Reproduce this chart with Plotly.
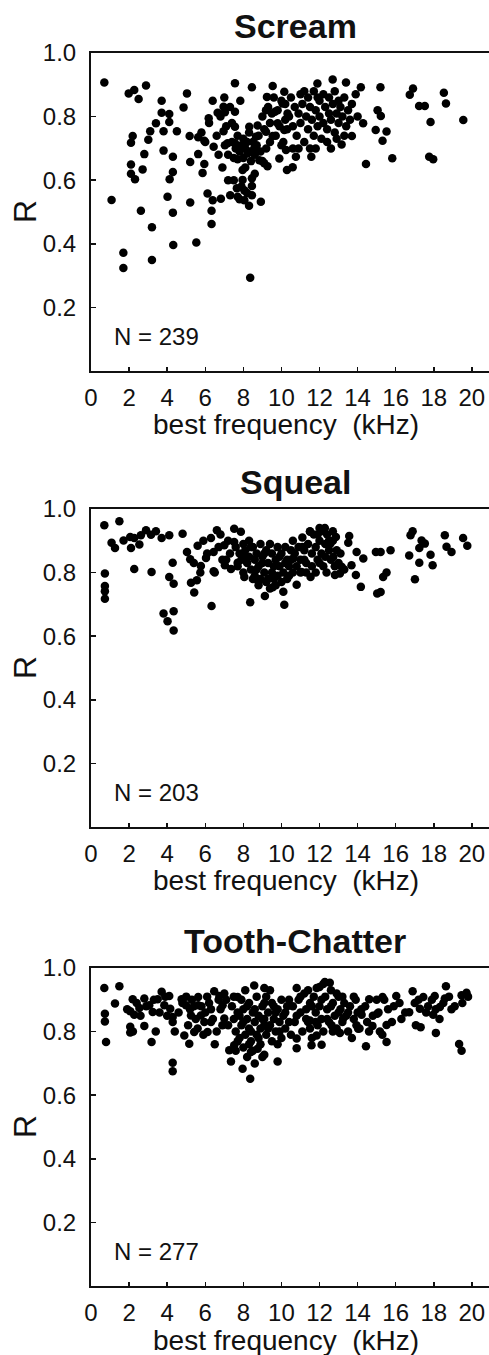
import plotly.graph_objects as go

# ---------------- data (best frequency kHz, R) ----------------
scream_pts = [
    (0.70, .907), (1.08, .538), (1.70, .372), (1.70, .324), (1.98, .873), (2.27, .884), (2.50, .855), (2.89, .898),
    (2.19, .739), (2.10, .718), (2.80, .682), (2.10, .649), (2.10, .620), (2.31, .603), (2.71, .634), (2.62, .504),
    (3.20, .452), (3.20, .349), (3.01, .727), (3.11, .754), (3.41, .779), (3.71, .850), (3.71, .812), (4.11, .808),
    (4.11, .783), (3.81, .754), (3.81, .693), (4.30, .674), (4.30, .626), (4.13, .603), (4.51, .754), (4.02, .548),
    (4.30, .498), (4.32, .396), (4.86, .829), (5.04, .873), (5.18, .739), (5.21, .657), (5.21, .530), (5.53, .404),
    (5.63, .735), (5.63, .682), (5.95, .724), (5.95, .651), (5.86, .623), (6.12, .558), (6.39, .537), (6.33, .504),
    (6.33, .462), (6.18, .795), (6.39, .850), (6.44, .705), (6.65, .812), (6.96, .831), (7.03, .814), (6.96, .754),
    (6.82, .542), (7.31, .553), (7.03, .710), (7.17, .716), (7.56, .905), (7.56, .815), (7.56, .768), (7.56, .716),
    (7.70, .666), (7.84, .850), (7.96, .632), (7.96, .601), (7.66, .575), (7.70, .548), (8.05, .568), (8.31, .768),
    (8.36, .293), (8.45, .892), (8.45, .606), (8.45, .582), (8.45, .553), (8.05, .537), (8.22, .684), (8.57, .700),
    (8.66, .737), (8.84, .663), (8.92, .532), (9.10, .653), (9.27, .644), (8.75, .772), (9.19, .820), (9.24, .862),
    (9.19, .752), (9.54, .896), (9.54, .739), (9.66, .815), (9.80, .779), (9.89, .668), (10.15, .878), (10.06, .841),
    (10.15, .758), (10.24, .695), (10.29, .632), (10.32, .810),
    (12.69, .917), (13.39, .907), (11.89, .904), (14.17, .892), (15.20, .892), (16.91, .888), (16.74, .869),
    (18.53, .875), (18.64, .841), (17.23, .833), (17.53, .833), (19.55, .789), (17.83, .783), (15.05, .820),
    (15.22, .802), (14.29, .779), (14.95, .758), (15.52, .753), (15.31, .724), (13.70, .739), (13.16, .712),
    (11.57, .674), (14.44, .651), (15.82, .669), (17.76, .674), (17.97, .666), (10.59, .641), (10.76, .674),
    (7.4, .72), (7.6, .70), (7.8, .69), (7.9, .71), (8.0, .73), (8.1, .70), (8.2, .72), (8.3, .69), (8.4, .66),
    (8.5, .72), (8.6, .68), (8.7, .71), (8.9, .69), (9.0, .66), (9.2, .70), (7.7, .74), (8.0, .67), (8.3, .75),
    (7.5, .67), (8.8, .74), (9.4, .72), (7.2, .68), (8.1, .64), (8.6, .62), (7.9, .58), (8.2, .56), (7.8, .54),
    (8.3, .52),
    (10.2, .84), (10.4, .80), (10.5, .86), (10.6, .77), (10.7, .83), (10.8, .74), (10.9, .81), (11.0, .87),
    (11.0, .78), (11.1, .84), (11.2, .72), (11.3, .80), (11.4, .86), (11.4, .76), (11.5, .83), (11.6, .79),
    (11.7, .88), (11.7, .74), (11.8, .82), (11.9, .77), (12.0, .85), (12.0, .80), (12.1, .73), (12.2, .87),
    (12.2, .78), (12.3, .83), (12.4, .76), (12.5, .81), (12.5, .86), (12.6, .79), (12.7, .84), (12.8, .75),
    (12.8, .88), (12.9, .81), (13.0, .78), (13.0, .85), (13.1, .83), (13.2, .80), (13.3, .86), (13.4, .77),
    (13.5, .82), (13.6, .79), (13.7, .84), (10.3, .76), (10.1, .72), (10.6, .70), (11.2, .88), (11.8, .70),
    (12.4, .72), (12.9, .73),
    (9.0, .80), (9.1, .76), (9.3, .83), (9.4, .78), (9.6, .86), (9.7, .74), (9.8, .82), (9.9, .77), (10.0, .85),
    (10.0, .71), (9.5, .81), (10.2, .79),
    (5.8, .75), (6.0, .72), (6.2, .78), (6.6, .74), (6.8, .80), (7.1, .77), (7.3, .83), (7.0, .86), (6.7, .68),
    (6.9, .64), (7.2, .60), (7.5, .60), (7.4, .78),
    (13.9, .87), (14.0, .80), (11.5, .70), (12.6, .70), (13.3, .74), (10.9, .70), (11.9, .86),
]

squeal_pts = [
    (0.70, .949), (1.49, .961), (1.08, .894), (1.26, .877), (0.73, .797), (0.73, .758), (0.73, .741), (0.73, .718),
    (1.71, .901), (2.06, .912), (2.27, .909), (2.10, .877), (2.54, .888), (2.62, .917), (2.89, .933), (3.15, .919),
    (3.41, .930), (2.27, .811), (3.18, .802), (3.71, .909), (4.11, .917), (4.81, .922), (4.29, .831), (4.11, .786),
    (4.34, .765), (3.81, .671), (4.02, .647), (4.34, .678), (4.34, .618), (5.04, .865), (5.21, .842), (5.25, .768),
    (5.56, .776), (5.42, .737), (5.60, .884), (5.77, .821), (5.74, .800), (6.04, .846), (6.33, .695), (6.44, .865),
    (6.44, .804), (6.30, .909), (6.61, .933), (7.03, .823), (7.35, .811), (7.00, .886), (7.52, .938), (7.87, .928),
    (7.52, .896), (7.70, .831), (8.05, .786), (8.36, .707), (8.75, .776), (9.13, .726), (9.54, .754), (10.15, .699),
    (12.28, .940), (11.50, .928), (13.56, .915), (13.51, .894), (13.95, .865), (14.30, .844), (14.96, .865),
    (15.21, .865), (15.73, .870), (13.68, .823), (13.91, .792), (14.17, .755), (15.03, .734), (15.21, .739),
    (15.34, .786), (15.52, .800), (16.89, .930), (16.78, .917), (17.36, .901), (17.53, .891), (17.24, .877),
    (16.71, .854), (17.24, .831), (17.83, .856), (17.94, .823), (17.01, .779), (18.58, .917), (18.67, .881),
    (18.93, .865), (19.54, .909), (19.76, .884), (12.37, .800), (12.81, .792), (13.16, .818), (13.07, .797),
    (11.53, .786), (10.80, .762), (11.06, .802), (10.62, .844), (12.72, .849), (12.86, .912), (12.57, .891),
    (7.6, .88), (7.8, .86), (7.9, .84), (8.0, .89), (8.1, .87), (8.2, .83), (8.3, .90), (8.3, .85), (8.4, .81),
    (8.5, .88), (8.6, .84), (8.6, .79), (8.7, .86), (8.8, .82), (8.9, .89), (8.9, .78), (9.0, .85), (9.1, .80),
    (9.2, .87), (9.2, .77), (9.3, .83), (9.4, .89), (9.5, .80), (9.5, .86), (9.6, .78), (9.7, .84), (9.8, .88),
    (9.8, .79), (9.9, .82), (10.0, .86), (10.0, .77), (10.1, .80), (10.2, .88), (10.3, .84), (10.3, .78),
    (10.4, .82), (10.5, .87), (8.0, .80), (8.8, .76), (9.4, .75), (10.1, .74),
    (10.6, .90), (10.7, .86), (10.9, .88), (11.0, .84), (11.1, .91), (11.2, .87), (11.3, .83), (11.4, .89),
    (11.6, .86), (11.7, .92), (11.8, .88), (11.9, .84), (12.0, .90), (12.1, .93), (12.1, .86), (12.2, .82),
    (12.3, .89), (12.4, .92), (12.5, .87), (12.6, .84), (12.7, .90), (12.9, .87), (13.0, .83), (11.5, .93),
    (12.0, .94), (11.3, .80), (10.8, .82),
    (5.9, .90), (6.1, .86), (6.7, .88), (6.9, .84), (7.2, .90), (7.3, .86), (5.4, .83), (6.5, .80),
    (7.7, .82), (8.1, .85), (8.4, .88), (8.7, .81), (9.0, .83), (9.3, .78), (9.6, .82), (9.9, .85), (10.2, .83),
    (10.4, .79), (8.5, .78), (9.1, .86), (9.7, .76), (10.6, .80), (11.0, .80), (11.2, .84), (11.6, .82),
    (11.8, .80), (12.3, .85), (12.5, .90), (12.8, .82), (13.1, .86), (13.3, .81), (11.1, .88), (10.5, .84),
    (12.0, .83), (12.7, .93), (11.9, .92), (6.8, .92), (7.1, .84),
]

chatter_pts = [
    (0.70, .937), (1.49, .943), (1.26, .888), (0.73, .856), (0.73, .832), (0.79, .767), (2.19, .902), (2.06, .864),
    (2.06, .815), (2.06, .797), (2.27, .853), (2.54, .874), (2.80, .904), (2.80, .818), (3.18, .767), (3.06, .883),
    (3.24, .862), (3.71, .925), (3.50, .902), (3.85, .883), (4.11, .912), (4.16, .872), (4.29, .846), (4.29, .830),
    (4.29, .702), (4.29, .675), (4.76, .902), (4.99, .883), (5.25, .851), (4.90, .788), (5.16, .762), (5.42, .799),
    (5.63, .909), (5.63, .883), (5.77, .851), (5.95, .830), (6.12, .799), (6.30, .830), (6.47, .927), (6.74, .912),
    (6.91, .883), (7.00, .841), (7.26, .741), (7.35, .706), (7.52, .757), (7.70, .909), (7.96, .683), (8.36, .652),
    (8.57, .945), (9.10, .937), (8.75, .746), (8.40, .736), (9.10, .727), (9.80, .706), (9.10, .820),
    (10.80, .937), (12.28, .956), (12.54, .954), (11.85, .937), (14.61, .902), (15.31, .909), (16.03, .912),
    (16.89, .927), (18.64, .943), (19.72, .922), (19.46, .914), (18.05, .912), (17.45, .909), (17.27, .872),
    (16.71, .861), (17.97, .853), (18.32, .877), (18.93, .870), (18.58, .904), (17.06, .820), (17.31, .814),
    (18.11, .796), (19.33, .761), (19.46, .740), (15.52, .767), (14.44, .754), (15.52, .821), (15.17, .800),
    (14.78, .818), (15.03, .856), (13.94, .820), (14.03, .809), (14.21, .853), (13.07, .796), (13.24, .841),
    (12.63, .820), (12.11, .759), (11.58, .757), (10.80, .748), (11.85, .788), (10.80, .778), (11.50, .835),
    (7.4, .88), (7.5, .84), (7.6, .80), (7.7, .86), (7.8, .78), (7.9, .90), (7.9, .82), (8.0, .75), (8.0, .87),
    (8.1, .79), (8.2, .84), (8.2, .72), (8.3, .89), (8.3, .81), (8.4, .77), (8.5, .86), (8.5, .74), (8.6, .83),
    (8.7, .79), (8.7, .91), (8.8, .85), (8.9, .81), (8.9, .76), (9.0, .88), (9.1, .84), (9.2, .79), (9.2, .91),
    (9.3, .86), (9.4, .82), (9.5, .77), (9.5, .89), (9.6, .84), (9.7, .80), (9.8, .87), (9.9, .83), (10.0, .78),
    (10.0, .90), (10.1, .85), (10.2, .81), (10.3, .88), (10.4, .83), (10.5, .79), (8.1, .93), (9.4, .93),
    (7.6, .74), (8.6, .70), (9.0, .72),
    (10.6, .88), (10.7, .83), (10.9, .90), (11.0, .86), (11.1, .80), (11.2, .92), (11.3, .87), (11.4, .83),
    (11.5, .89), (11.6, .78), (11.7, .91), (11.8, .86), (11.9, .82), (12.0, .94), (12.0, .88), (12.1, .84),
    (12.2, .80), (12.3, .91), (12.4, .87), (12.5, .83), (12.6, .93), (12.7, .89), (12.8, .85), (12.9, .81),
    (13.0, .91), (13.1, .87), (13.2, .83), (13.3, .89), (13.4, .85), (13.5, .80), (13.6, .88), (13.8, .84),
    (13.9, .90), (14.0, .86), (14.1, .81), (12.2, .95), (11.4, .93), (13.7, .78),
    (5.0, .91), (5.2, .87), (5.5, .84), (5.8, .88), (6.0, .86), (6.2, .89), (6.4, .84), (6.6, .80), (6.8, .87),
    (7.1, .90), (7.2, .82), (6.5, .76), (5.9, .79), (4.6, .86), (4.4, .80),
    (14.4, .88), (14.8, .85), (15.0, .90), (15.6, .87), (15.8, .83), (16.2, .89), (16.3, .84), (14.6, .80),
    (15.3, .79),
    (17.0, .89), (17.6, .86), (17.9, .90), (18.3, .84), (18.8, .91), (19.1, .88), (19.5, .89), (19.8, .91),
    (1.9, .87), (2.4, .89), (2.6, .85), (2.9, .88), (3.3, .90), (3.6, .86), (3.9, .91), (4.0, .85), (3.4, .80),
    (2.2, .80),
    (4.8, .89), (5.3, .90), (5.6, .81), (6.1, .91), (6.3, .87), (6.9, .82), (7.0, .92), (5.1, .82), (6.7, .90),
    (5.4, .88),
    (7.5, .91), (7.8, .85), (8.0, .83), (8.2, .88), (8.4, .80), (8.6, .87), (8.8, .78), (9.0, .84), (9.1, .89),
    (9.3, .81), (9.6, .88), (9.7, .86), (9.9, .80), (10.2, .86), (10.4, .90), (8.3, .76), (7.7, .77), (9.8, .76),
    (10.8, .85), (11.0, .91), (11.3, .84), (11.6, .88), (11.8, .83), (12.1, .90), (12.4, .84), (12.6, .88),
    (12.9, .92), (13.0, .86), (13.2, .91), (13.5, .86), (13.8, .91), (11.5, .81), (12.7, .80),
    (14.2, .87), (14.5, .83), (15.1, .86), (15.4, .90), (15.9, .88), (16.5, .86), (17.2, .90), (17.7, .88),
    (18.1, .87), (18.5, .89),
]

panel_titles = ["Scream", "Squeal", "Tooth-Chatter"]
panel_counts = ["N = 239", "N = 203", "N = 277"]
x_ticks = [0, 2, 4, 6, 8, 10, 12, 14, 16, 18, 20]
y_ticks = [0.2, 0.4, 0.6, 0.8, 1.0]
y_ticktext = ["0.2", "0.4", "0.6", "0.8", "1.0"]
x_label = "best frequency\u00a0 (kHz)"
y_label = "R"

# ---------------- figure ----------------
W, H = 489, 1355
ML, MR, MT, MB = 91, 0, 53, 69
domains = [[0.7421, 1.0], [0.3723, 0.6302], [0.0, 0.2579]]
FONT = "Liberation Sans, Arial, sans-serif"
INK = "#111111"

fig = go.Figure()
all_pts = [scream_pts, squeal_pts, chatter_pts]
for i, pts in enumerate(all_pts):
    suf = "" if i == 0 else str(i + 1)
    fig.add_trace(go.Scatter(
        x=[p[0] for p in pts], y=[p[1] for p in pts], mode="markers",
        marker=dict(color="black", size=8.5, line=dict(width=0)),
        xaxis="x" + suf, yaxis="y" + suf, showlegend=False, hoverinfo="skip",
    ))

layout = dict(
    width=W, height=H, margin=dict(l=ML, r=MR, t=MT, b=MB),
    paper_bgcolor="white", plot_bgcolor="white",
    font=dict(family=FONT, color=INK), showlegend=False,
)
annotations = []
for i in range(3):
    suf = "" if i == 0 else str(i + 1)
    layout["xaxis" + suf] = dict(
        domain=[0, 1], anchor="y" + suf, range=[0, 20.9],
        tickmode="array", tickvals=x_ticks, ticktext=[str(v) for v in x_ticks],
        ticks="inside", ticklen=4, tickwidth=1.5, tickcolor=INK,
        showline=True, linewidth=2, linecolor=INK, mirror=True,
        showgrid=False, zeroline=False, tickfont=dict(size=24, family=FONT, color=INK),
        ticklabelstandoff=4, fixedrange=True,
    )
    layout["yaxis" + suf] = dict(
        domain=domains[i], anchor="x" + suf, range=[0, 1],
        tickmode="array", tickvals=y_ticks, ticktext=y_ticktext,
        ticks="inside", ticklen=5, tickwidth=1.5, tickcolor=INK,
        showline=True, linewidth=2, linecolor=INK, mirror=False,
        showgrid=False, zeroline=False, tickfont=dict(size=24, family=FONT, color=INK),
        ticklabelstandoff=8, fixedrange=True,
    )
    xr = "x" + suf + " domain"
    yr = "y" + suf + " domain"
    annotations.append(dict(text="<b>" + panel_titles[i] + "</b>", xref=xr, yref=yr,
                            x=0.513, y=1, yshift=27, xanchor="center", yanchor="middle",
                            showarrow=False, font=dict(size=34, family=FONT, color=INK)))
    annotations.append(dict(text=x_label, xref=xr, yref=yr, x=0.49, y=0, yshift=-54,
                            xanchor="center", yanchor="middle", showarrow=False,
                            font=dict(size=28, family=FONT, color=INK)))
    annotations.append(dict(text=y_label, xref=xr, yref="y" + suf, x=0, xshift=-66, y=0.5,
                            xanchor="center", yanchor="middle", textangle=-90, showarrow=False,
                            font=dict(size=32, family=FONT, color=INK)))
    annotations.append(dict(text=panel_counts[i], xref="x" + suf, yref="y" + suf, x=1.1, y=0.107,
                            xanchor="left", yanchor="middle", showarrow=False,
                            font=dict(size=24, family=FONT, color=INK)))
layout["annotations"] = annotations
fig.update_layout(**layout)
fig.write_html(
    "out.html",
    config={"displayModeBar": False, "staticPlot": True},
    post_script="document.body.style.margin='0';document.body.style.padding='0';"
                "document.body.style.overflow='hidden';",
)
